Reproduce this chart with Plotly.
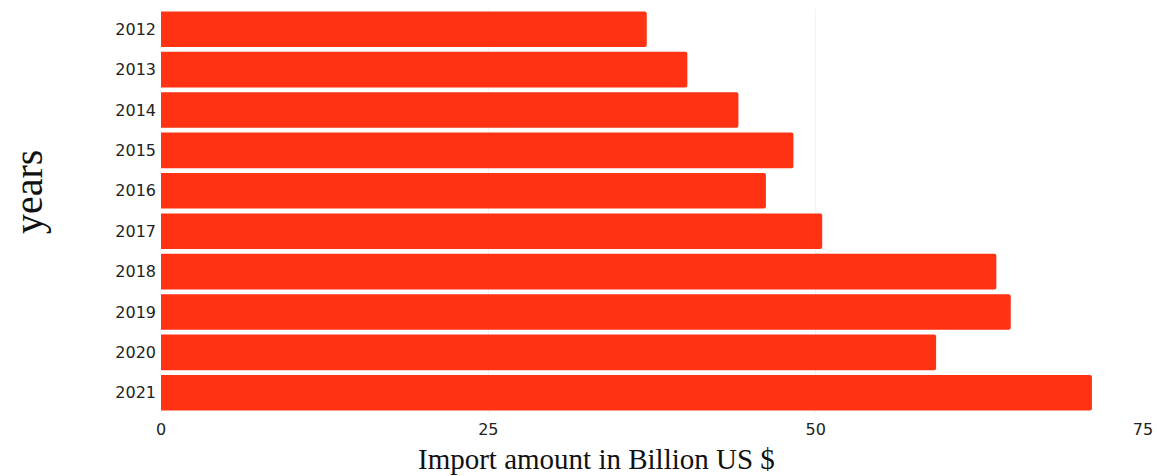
import plotly.graph_objects as go

years = ["2012", "2013", "2014", "2015", "2016", "2017", "2018", "2019", "2020", "2021"]
imports = [37.1, 40.2, 44.1, 48.3, 46.2, 50.5, 63.8, 64.9, 59.2, 71.1]
x_ticks = [0, 25, 50, 75]

L, R, T, B = 161, 14, 9, 63
W, H = 1157, 476
PW, PH = W - L - R, H - T - B

fig = go.Figure(go.Bar(
    x=imports, y=years, orientation="h",
    marker=dict(color="#ff3313", line=dict(width=0)),
))

fig.update_layout(
    width=W, height=H,
    margin=dict(l=L, r=R, t=T, b=B, autoexpand=False),
    paper_bgcolor="white", plot_bgcolor="white",
    bargap=0.12,
    barcornerradius=2,
    showlegend=False,
    xaxis=dict(
        range=[0, 75], tickvals=x_ticks, ticktext=[str(t) for t in x_ticks],
        showgrid=True, gridcolor="#f3f3f3", zeroline=False, automargin=False,
        ticks="outside", ticklen=2, tickcolor="rgba(0,0,0,0)",
        tickfont=dict(family="DejaVu Sans", size=16, color="#222"),
    ),
    yaxis=dict(
        autorange="reversed", showgrid=False, zeroline=False, automargin=False,
        ticklabelstandoff=4,
        tickfont=dict(family="DejaVu Sans", size=16, color="#222"),
    ),
    annotations=[
        dict(text="Import amount in Billion US $", xref="paper", yref="paper",
             x=(596 - L) / PW, y=(H - B - 459) / PH, xanchor="center", yanchor="middle",
             showarrow=False, font=dict(family="Liberation Serif", size=29, color="#111")),
        dict(text="years", xref="paper", yref="paper", textangle=-90,
             x=(29 - L) / PW, y=(H - B - 192) / PH, xanchor="center", yanchor="middle",
             showarrow=False, font=dict(family="Liberation Serif", size=40, color="#111")),
    ],
)

fig.write_html("out.html")
